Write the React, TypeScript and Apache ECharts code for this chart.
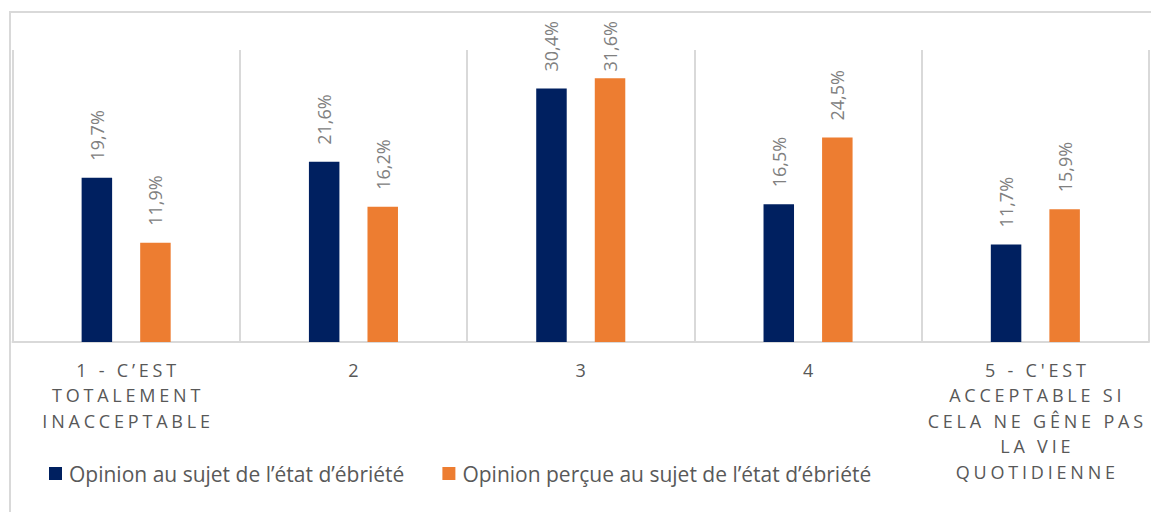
import React, { useEffect, useRef } from "react";
import * as echarts from "echarts";

const categories = [
  "1 - C’EST\nTOTALEMENT\nINACCEPTABLE",
  "2",
  "3",
  "4",
  "5 - C'EST\nACCEPTABLE SI\nCELA NE GÊNE PAS\nLA VIE\nQUOTIDIENNE",
];
const seriesNames = [
  "Opinion au sujet de l’état d’ébriété",
  "Opinion perçue au sujet de l’état d’ébriété",
];
const opinion = [19.7, 21.6, 30.4, 16.5, 11.7];
const opinionPercue = [11.9, 16.2, 31.6, 24.5, 15.9];

const AXIS_COLOR = "#585858";
const FONT = "'Open Sans', 'DejaVu Sans', sans-serif";
const LABEL_DIST = 17;
const LABEL_LEN = 51;
const LABEL_TOP_LIMIT = 20.5;

export default function App() {
  const ref = useRef<HTMLDivElement>(null);
  useEffect(() => {
    const el = ref.current!;
    const chart = echarts.init(el, undefined, { renderer: "svg" });
    const fmt = (p: any) => p.value.toFixed(1).replace(".", ",") + "%";
    const label = {
      show: true,
      position: "top",
      rotate: 90,
      align: "left",
      verticalAlign: "middle",
      distance: LABEL_DIST,
      color: "#808080",
      fontSize: 18,
      fontFamily: FONT,
      formatter: fmt,
    };
    const base: any = {
      animation: false,
      graphic: [
        {
          type: "rect",
          shape: { x: 10, y: 12, width: 1160, height: 520 },
          style: { fill: "none", stroke: "#d9d9d9", lineWidth: 2 },
          silent: true,
        },
      ],
      legend: {
        left: 49,
        top: 463,
        padding: 0,
        itemWidth: 13,
        itemHeight: 13,
        itemGap: 38,
        icon: "rect",
        textStyle: {
          color: "#595959",
          fontSize: 21,
          fontFamily: FONT,
          lineHeight: 20,
          padding: [0, 0, 0, 2],
        },
        data: seriesNames,
      },
      grid: { left: 12.5, right: 2, top: 50, bottom: 170, containLabel: false },
      xAxis: {
        type: "category",
        data: categories,
        axisLine: { lineStyle: { color: "#d9d9d9", width: 2 } },
        axisTick: { show: false },
        splitLine: { show: true, lineStyle: { color: "#d9d9d9", width: 2 } },
        axisLabel: {
          interval: 0,
          margin: 15,
          color: AXIS_COLOR,
          fontSize: 18,
          lineHeight: 25.5,
          fontFamily: FONT,
        },
      },
      yAxis: { type: "value", min: 0, max: 35, show: false, splitLine: { show: false } },
      series: [
        {
          name: seriesNames[0],
          type: "bar",
          data: opinion,
          barWidth: 30.5,
          barGap: "92%",
          itemStyle: { color: "#002060" },
          label,
        },
        {
          name: seriesNames[1],
          type: "bar",
          data: opinionPercue,
          barWidth: 30.5,
          itemStyle: { color: "#ED7D31" },
          label,
        },
      ],
    };
    chart.setOption(base);
    // keep labels inside the chart area (clamp at the top), like the original
    const clampData = (vals: number[]) =>
      vals.map((v) => {
        const top = chart.convertToPixel({ yAxisIndex: 0 }, v) as number;
        const labelTop = top - LABEL_DIST - LABEL_LEN;
        if (labelTop < LABEL_TOP_LIMIT) {
          return { value: v, label: { distance: top - LABEL_LEN - LABEL_TOP_LIMIT } };
        }
        return v;
      });
    chart.setOption({
      series: [{ data: clampData(opinion) }, { data: clampData(opinionPercue) }],
    });
    const spacing = () => {
      el.querySelectorAll("text").forEach((t) => {
        const f = (t.getAttribute("fill") || "").toLowerCase().replace(/\s/g, "");
        if (f === "#585858" || f === "rgb(88,88,88)") {
          t.setAttribute("letter-spacing", "3.8px");
          t.setAttribute("dx", "1.9");
        }
      });
    };
    spacing();
    chart.on("finished", spacing);
    const tm = setTimeout(spacing, 50);
    return () => {
      clearTimeout(tm);
      chart.dispose();
    };
  }, []);
  return <div ref={ref} style={{ width: 1151, height: 512, position: "absolute", left: 0, top: 0 }} />;
}
